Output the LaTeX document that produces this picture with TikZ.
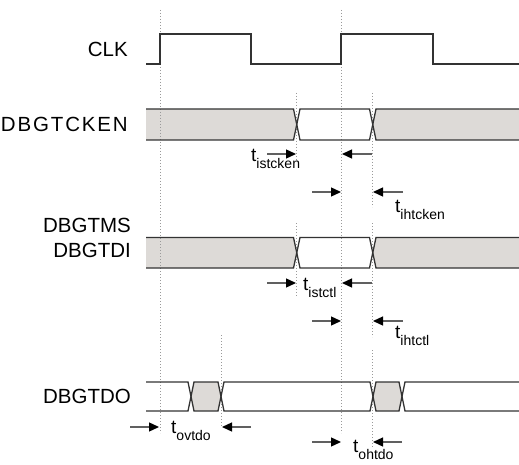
\documentclass[tikz,border=0pt]{standalone}
\usepackage{fontspec}
\setmainfont{Liberation Sans}
\usetikzlibrary{arrows.meta}
\definecolor{busgray}{HTML}{DDDAD7}
\definecolor{wiregray}{HTML}{333333}
\definecolor{guidegray}{HTML}{9A9A9A}
\definecolor{shaftgray}{HTML}{606060}
\tikzset{
  wire/.style={wiregray, line width=1.3pt},
  busfill/.style={fill=busgray},
  guide/.style={guidegray, line width=0.8pt, dash pattern=on 1pt off 2pt},
  tarrow/.style={shaftgray, line width=1.3pt, -{Triangle[length=10pt,width=9pt,color=black]}},
  signame/.style={anchor=east, inner sep=0pt, font=\fontsize{20.5}{22}\selectfont},
  tlabel/.style={anchor=base west, inner sep=0pt, font=\fontsize{19}{20}\selectfont}
}
\newcommand{\tsub}[1]{t\raisebox{-7pt}{\fontsize{14}{14}\selectfont #1}}
\begin{document}
\begin{tikzpicture}[x=1pt,y=-1pt]
  \useasboundingbox (0,0) rectangle (519,465);
  % Bus fills
  \fill[busfill] (146,109) -- (293.5,109) -- (296.75,124.5) -- (293.5,140) -- (146,140) -- cycle;
  \fill[busfill] (376,109) -- (519,109) -- (519,140) -- (376,140) -- (372.75,124.5) -- cycle;
  \fill[busfill] (146,237.5) -- (293.5,237.5) -- (296.75,252.75) -- (293.5,268) -- (146,268) -- cycle;
  \fill[busfill] (376,237.5) -- (519,237.5) -- (519,268) -- (376,268) -- (372.75,252.75) -- cycle;
  \fill[busfill] (194,382) -- (218,382) -- (221,396.5) -- (218,411) -- (194,411) -- (191,396.5) -- cycle;
  \fill[busfill] (376,382) -- (399,382) -- (402,396.5) -- (399,411) -- (376,411) -- (373,396.5) -- cycle;
  % Dotted guides
  \draw[guide] (160,10) -- (160,433);
  \draw[guide] (341,10) -- (341,433);
  \draw[guide] (296.75,93) -- (296.75,160);
  \draw[guide] (296.75,223) -- (296.75,297);
  \draw[guide] (372.75,93) -- (372.75,207);
  \draw[guide] (372.75,223) -- (372.75,337);
  \draw[guide] (372.75,350) -- (372.75,447);
  \draw[guide] (221,335) -- (221,427);
  % CLK
  \draw[wire] (146,64) -- (160,64) -- (160,34) -- (251,34) -- (251,64) -- (341,64)
     -- (341,34) -- (433,34) -- (433,64) -- (519,64);
  % DBGTCKEN
  \draw[wire] (146,109) -- (293.5,109) -- (300,140) -- (369.5,140) -- (376,109) -- (519,109);
  \draw[wire] (146,140) -- (293.5,140) -- (300,109) -- (369.5,109) -- (376,140) -- (519,140);
  % DBGTMS / DBGTDI
  \draw[wire] (146,237.5) -- (293.5,237.5) -- (300,268) -- (369.5,268) -- (376,237.5) -- (519,237.5);
  \draw[wire] (146,268) -- (293.5,268) -- (300,237.5) -- (369.5,237.5) -- (376,268) -- (519,268);
  % DBGTDO
  \draw[wire] (146,382) -- (188,382) -- (194,411) -- (218,411) -- (224,382) -- (370,382)
     -- (376,411) -- (399,411) -- (405,382) -- (519,382);
  \draw[wire] (146,411) -- (188,411) -- (194,382) -- (218,382) -- (224,411) -- (370,411)
     -- (376,382) -- (399,382) -- (405,411) -- (519,411);
  % Timing arrows
  \draw[tarrow] (267,154) -- (296,154);
  \draw[tarrow] (372,154) -- (342,154);
  \draw[tarrow] (312,192) -- (341,192);
  \draw[tarrow] (403,192) -- (373,192);
  \draw[tarrow] (267,283) -- (296,283);
  \draw[tarrow] (372,283) -- (342,283);
  \draw[tarrow] (312,321) -- (341,321);
  \draw[tarrow] (403,321) -- (373,321);
  \draw[tarrow] (130,427) -- (159,427);
  \draw[tarrow] (251,427) -- (222,427);
  \draw[tarrow] (312,442) -- (341,442);
  \draw[tarrow] (402,442) -- (373,442);
  % Signal names
  \node[signame] (clk) at (128,49.5) {CLK};
  \node[signame] (tcken) at (128,124) {\addfontfeature{LetterSpace=9}DBGTCKEN};
  \node[signame] (tms) at (131,225.5) {DBGTMS};
  \node[signame] (tdi) at (131,250) {DBGTDI};
  \node[signame] (tdo) at (131,396) {DBGTDO};
  % Timing labels
  \node[tlabel] (istcken) at (251,162) {\tsub{istcken}};
  \node[tlabel] (ihtcken) at (395,212) {\tsub{ihtcken}};
  \node[tlabel] (istctl) at (303,290) {\tsub{istctl}};
  \node[tlabel] (ihtctl) at (395,338) {\tsub{ihtctl}};
  \node[tlabel] (ovtdo) at (171,433) {\tsub{ovtdo}};
  \node[tlabel] (ohtdo) at (353,452) {\tsub{ohtdo}};
\end{tikzpicture}
\end{document}
